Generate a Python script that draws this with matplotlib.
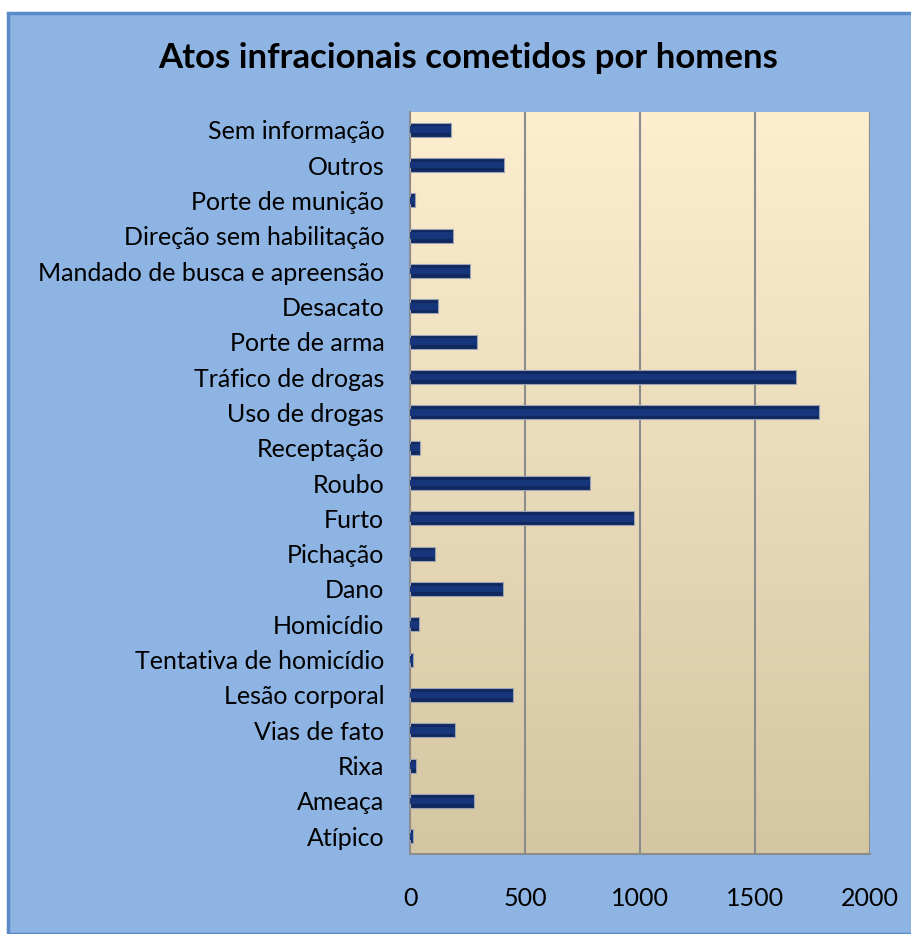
#!/usr/bin/env python3
"""Horizontal bar chart: atos infracionais cometidos por homens."""

import matplotlib.pyplot as plt
import numpy as np
from matplotlib.patches import Rectangle

# categories from bottom to top
categorias = [
    "Atípico",
    "Ameaça",
    "Rixa",
    "Vias de fato",
    "Lesão corporal",
    "Tentativa de homicídio",
    "Homicídio",
    "Dano",
    "Pichação",
    "Furto",
    "Roubo",
    "Receptação",
    "Uso de drogas",
    "Tráfico de drogas",
    "Porte de arma",
    "Desacato",
    "Mandado de busca e apreensão",
    "Direção sem habilitação",
    "Porte de munição",
    "Outros",
    "Sem informação",
]
quantidades = [12, 277, 26, 194, 446, 14, 38, 403, 108, 976, 782, 42,
               1777, 1680, 290, 123, 261, 188, 22, 409, 178]
ticks_x = [0, 500, 1000, 1500, 2000]

W, H = 911, 934
fig = plt.figure(figsize=(W / 100, H / 100), dpi=100)
fig.patch.set_facecolor("white")
plt.rcParams["font.family"] = ["Lato", "DejaVu Sans"]

# outer chart box
fig.patches.append(Rectangle((8 / W, 0), 1, 1 - 13 / H, transform=fig.transFigure,
                             facecolor="#8EB4E3", edgecolor="#5A8AC8", linewidth=2.5,
                             zorder=-5))

ax = fig.add_axes([410 / W, 1 - 854 / H, 460 / W, 742 / H])
ax.set_zorder(2)

# gradient background of the plot area
grad = np.linspace(0, 1, 256)[:, None]
top = np.array([253, 238, 208]) / 255
bot = np.array([212, 198, 162]) / 255
img = top[None, None, :] * (1 - grad[:, :, None]) + bot[None, None, :] * grad[:, :, None]
ax.imshow(img, extent=[0, 1, 0, 1], transform=ax.transAxes, aspect="auto", zorder=0)

y = np.arange(len(categorias))
ax.barh(y, quantidades, height=0.40, color="#10285F", edgecolor="#9AA2B3",
        linewidth=0.8, zorder=3)
ax.barh(y, quantidades, height=0.18, color="#17357A", linewidth=0, zorder=4)

ax.set_xlim(0, 2000)
ax.set_ylim(-0.5, len(categorias) - 0.5)
ax.set_xticks(ticks_x)
ax.set_yticks(y)
ax.set_yticklabels(categorias)
ax.tick_params(axis="both", length=0, labelsize=18, colors="black")
ax.tick_params(axis="x", pad=24)
ax.tick_params(axis="y", pad=18.5)
ax.grid(axis="x", color="#8C8C8C", linewidth=1.5, zorder=1)
for side in ["top", "right"]:
    ax.spines[side].set_visible(False)
ax.spines["left"].set_color("#8C8C8C")
ax.spines["left"].set_linewidth(1.5)
ax.spines["bottom"].set_color("#8C8C8C")
ax.spines["bottom"].set_linewidth(1.5)

fig.text(468 / W, 1 - 58 / H, "Atos infracionais cometidos por homens",
         ha="center", va="center", fontsize=25, fontweight="bold", zorder=3)

fig.savefig("out.png", dpi=100)
